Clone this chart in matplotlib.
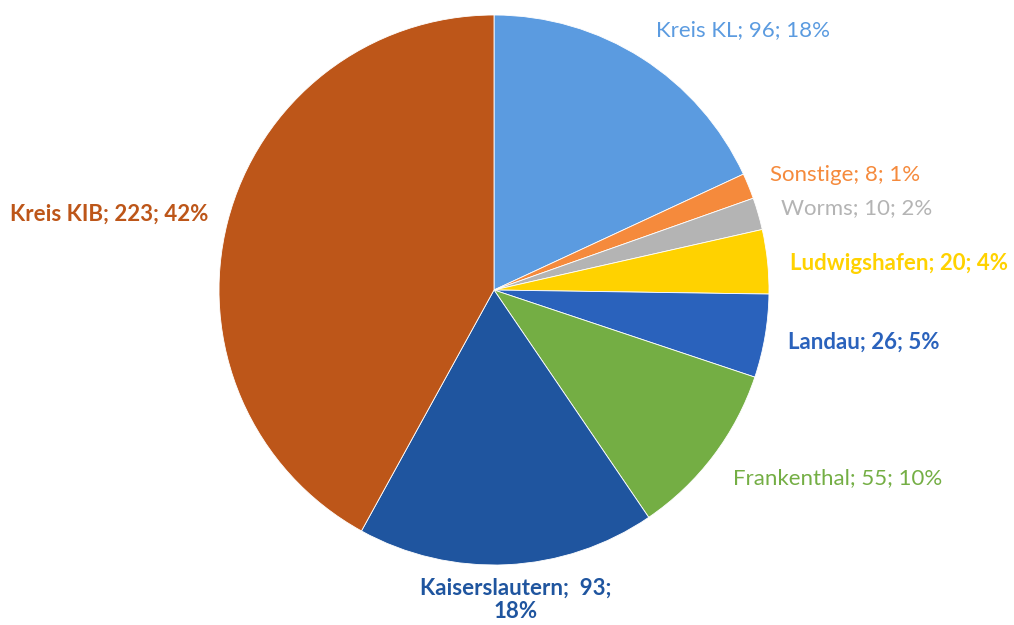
import matplotlib.pyplot as plt

# data
names = ["Kreis KL", "Sonstige", "Worms", "Ludwigshafen", "Landau",
         "Frankenthal", "Kaiserslautern", "Kreis KIB"]
values = [96, 8, 10, 20, 26, 55, 93, 223]
percents = ["18%", "1%", "2%", "4%", "5%", "10%", "18%", "42%"]
colors = ["#5B9BE0", "#F58A3C", "#B4B4B4", "#FFD200", "#2A62BC",
          "#74AE44", "#1F559F", "#BD5619"]
bold = [False, False, False, True, True, False, True, True]

fig = plt.figure(figsize=(10.14, 6.25), dpi=100)
ax = fig.add_axes([0, 0, 1, 1])

ax.pie(values, colors=colors, startangle=90, counterclock=False,
       center=(494, 335), radius=275, frame=True,
       wedgeprops={"edgecolor": "white", "linewidth": 0.6})
ax.set_xlim(0, 1014)
ax.set_ylim(0, 625)
ax.set_aspect("equal")
ax.axis("off")

# label positions (x, y from top, alignment)
label_pos = [
    (656, 30, "left"),
    (770, 175, "left"),
    (781, 208, "left"),
    (790, 263, "left"),
    (788, 342, "left"),
    (733, 478, "left"),
    (516, 600, "center"),
    (10, 214, "left"),
]

for i in range(len(names)):
    x, y, ha = label_pos[i]
    if names[i] == "Kaiserslautern":
        txt = f"{names[i]};  {values[i]};\n{percents[i]}"
    else:
        txt = f"{names[i]}; {values[i]}; {percents[i]}"
    ax.text(x, 625 - y, txt, color=colors[i], ha=ha, va="center",
            fontsize=16, family="Lato", linespacing=1.15,
            fontweight="bold" if bold[i] else "normal")

plt.savefig("out.png", dpi=100)
plt.close()
